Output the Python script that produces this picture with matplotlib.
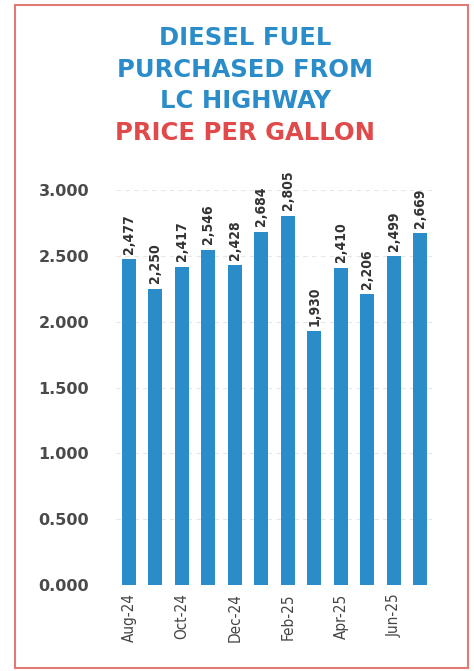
import numpy as np
import matplotlib.pyplot as plt
from matplotlib.patches import Rectangle

months = ["Aug-24", "Sep-24", "Oct-24", "Nov-24", "Dec-24", "Jan-25",
          "Feb-25", "Mar-25", "Apr-25", "May-25", "Jun-25", "Jul-25"]
prices = [2.477, 2.250, 2.417, 2.546, 2.428, 2.684,
          2.805, 1.930, 2.410, 2.206, 2.499, 2.669]
yticks = [0.0, 0.5, 1.0, 1.5, 2.0, 2.5, 3.0]

blue = "#2a8cc8"
red = "#e04a4a"

fig = plt.figure(figsize=(4.74, 6.71), dpi=100)
ax = fig.add_axes([0.244, 0.128, 0.671, 0.589])

x = np.arange(len(prices))
ax.bar(x, prices, width=0.53, color=blue, zorder=2)
for xi, v in zip(x, prices):
    label = "{:.3f}".format(v).replace(".", ",")
    ax.text(xi, v + 0.04, label, rotation=90, ha="center", va="bottom",
            fontsize=10, fontweight="bold", color="#333333", fontstretch="condensed",
            clip_on=False)

ax.set_xlim(-0.5, len(prices) - 0.5)
ax.set_ylim(0, 3.0)
ax.set_yticks(yticks)
ax.set_yticklabels(["{:.3f}".format(t) for t in yticks], fontsize=11.5,
                   fontweight="bold", color="#4a4a4a")
ax.set_xticks(x[::2])
ax.set_xticklabels(months[::2], rotation=90, fontsize=11, color="#444444",
                   fontstretch="condensed")
ax.tick_params(axis="both", length=0, pad=6)
ax.tick_params(axis="y", pad=19)
for s in ax.spines.values():
    s.set_visible(False)
ax.yaxis.grid(True, color="#e6e6e6", linestyle=(0, (4, 4)), linewidth=0.8, zorder=0)

title_kw = dict(ha="center", va="center", fontsize=17.5, fontweight="heavy")
fig.text(0.517, 0.943, "DIESEL FUEL", color=blue, **title_kw)
fig.text(0.517, 0.896, "PURCHASED FROM", color=blue, **title_kw)
fig.text(0.517, 0.849, "LC HIGHWAY", color=blue, **title_kw)
fig.text(0.517, 0.802, "PRICE PER GALLON", color=red, **title_kw)

fig.patches.append(Rectangle((15 / 474, 3 / 671), 453 / 474, 663 / 671,
                             transform=fig.transFigure, fill=False,
                             edgecolor="#e07a74", linewidth=1.5))

fig.savefig("out.png", dpi=100)
